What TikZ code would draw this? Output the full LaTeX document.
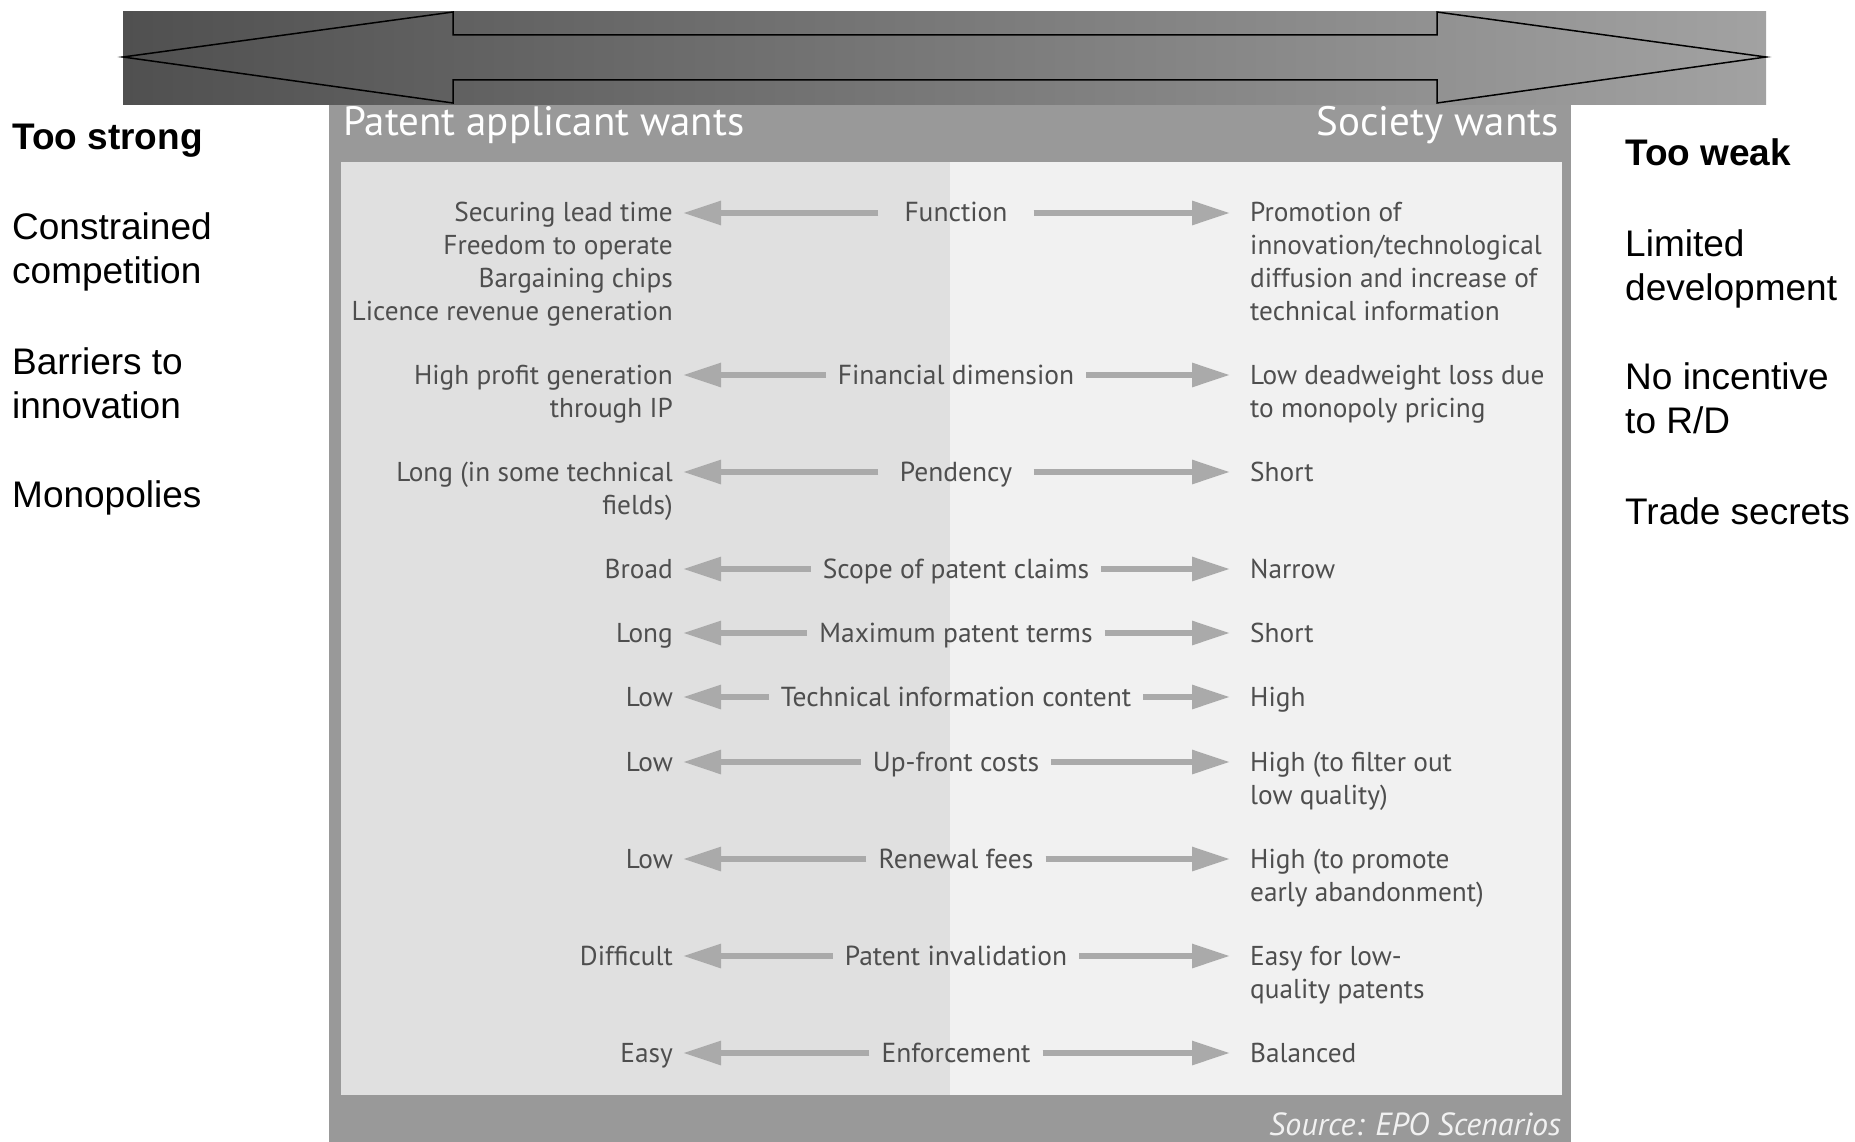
\documentclass[tikz,border=0pt]{standalone}
\usepackage{fontspec}
\setmainfont{Liberation Sans}
\newfontfamily\panelfont{PT Sans}
\usetikzlibrary{arrows.meta,positioning,calc}
\definecolor{bannerdark}{RGB}{80,80,80}
\definecolor{bannerlight}{RGB}{162,162,162}
\definecolor{framegray}{RGB}{153,153,153}
\definecolor{panelleft}{RGB}{224,224,224}
\definecolor{panelright}{RGB}{241,241,241}
\definecolor{arrowgray}{RGB}{170,170,170}
\definecolor{labelgray}{RGB}{78,78,78}
% multi-line texts that sit on the baseline of their first line
\newcommand{\stackright}[1]{\begin{tabular}[t]{@{}r@{}}#1\end{tabular}}
\newcommand{\stackleft}[1]{\begin{tabular}[t]{@{}l@{}}#1\end{tabular}}

\begin{document}
\begin{tikzpicture}[x=1pt, y=-1pt,
    verdict/.style={anchor=base west, inner sep=0pt, font=\fontsize{37}{44}\selectfont},
    heading/.style={inner sep=0pt, text=white, font=\panelfont\fontsize{41}{46}\selectfont},
    wantleft/.style={anchor=base east, inner sep=0pt, text=labelgray, font=\panelfont\fontsize{27.3}{33}\selectfont},
    wantright/.style={anchor=base west, inner sep=0pt, text=labelgray, font=\panelfont\fontsize{27.3}{33}\selectfont},
    dimension/.style={anchor=base, inner sep=0pt, inner xsep=12pt, minimum width=155pt, text=labelgray, font=\panelfont\fontsize{27.5}{33}\selectfont},
    pull/.style={draw=arrowgray, line width=6pt, -{Triangle[length=38pt, width=23pt]}}
]
    \useasboundingbox (0,0) rectangle (1855,1142);
    \fill[white] (0,0) rectangle (1855,1142);

    % Frame and panel
    \fill[framegray] (329,105) rectangle (1571,1142);
    \fill[panelleft] (341,162) rectangle (950,1095);
    \fill[panelright] (950,162) rectangle (1562,1095);

    % Banner with double arrow
    \shade[left color=bannerdark, right color=bannerlight] (123,12) rectangle (1766,105);
    \draw[line width=1.5pt] (123,57) -- (453,12) -- (453,35) -- (1437,35) -- (1437,12)
        -- (1766,57) -- (1437,103) -- (1437,80) -- (453,80) -- (453,103) -- cycle;

    % Headings
    \node[heading, anchor=base west] (hl) at (343,136) {Patent applicant wants};
    \node[heading, anchor=base east] (hr) at (1559,136) {Society wants};
    \node[heading, anchor=base east, font=\panelfont\itshape\fontsize{32}{36}\selectfont, text=panelright] (src) at (1561,1135) {Source: EPO Scenarios};

    % Too strong side
    \node[verdict, font=\bfseries\fontsize{37}{44}\selectfont] (ts) at (12,150) {Too strong};
    \node[verdict] (ts1) at (12,240) {\stackleft{Constrained\\competition}};
    \node[verdict] (ts2) at (12,374) {\stackleft{Barriers to\\innovation}};
    \node[verdict] (ts3) at (12,507) {Monopolies};

    % Too weak side
    \node[verdict, font=\bfseries\fontsize{37}{44}\selectfont] (tw) at (1625,166) {Too weak};
    \node[verdict] (tw1) at (1625,256) {\stackleft{Limited\\development}};
    \node[verdict] (tw2) at (1625,389) {\stackleft{No incentive\\to R/D}};
    \node[verdict] (tw3) at (1625,524) {Trade secrets};

    % Dimensions
    \node[dimension] (c1) at (956,222) {Function};
    \node[dimension] (c2) at (956,384) {Financial dimension};
    \node[dimension] (c3) at (956,481) {Pendency};
    \node[dimension] (c4) at (956,578) {Scope of patent claims};
    \node[dimension] (c5) at (956,642) {Maximum patent terms};
    \node[dimension] (c6) at (956,706) {Technical information content};
    \node[dimension] (c7) at (956,771) {Up-front costs};
    \node[dimension] (c8) at (956,868) {Renewal fees};
    \node[dimension] (c9) at (956,965) {Patent invalidation};
    \node[dimension] (c10) at (956,1062) {Enforcement};

    % Patent applicant wants
    \node[wantleft] (l1) at (673,222) {\stackright{Securing lead time\\Freedom to operate\\Bargaining chips\\Licence revenue generation}};
    \node[wantleft] (l2) at (673,384) {\stackright{High profit generation\\through IP}};
    \node[wantleft] (l3) at (673,481) {\stackright{Long (in some technical\\fields)}};
    \node[wantleft] (l4) at (673,578) {Broad};
    \node[wantleft] (l5) at (673,642) {Long};
    \node[wantleft] (l6) at (673,706) {Low};
    \node[wantleft] (l7) at (673,771) {Low};
    \node[wantleft] (l8) at (673,868) {Low};
    \node[wantleft] (l9) at (673,965) {Difficult};
    \node[wantleft] (l10) at (673,1062) {Easy};

    % Society wants
    \node[wantright] (r1) at (1250,222) {\stackleft{Promotion of\\innovation/technological\\diffusion and increase of\\technical information}};
    \node[wantright] (r2) at (1250,384) {\stackleft{Low deadweight loss due\\to monopoly pricing}};
    \node[wantright] (r3) at (1250,481) {Short};
    \node[wantright] (r4) at (1250,578) {Narrow};
    \node[wantright] (r5) at (1250,642) {Short};
    \node[wantright] (r6) at (1250,706) {High};
    \node[wantright] (r7) at (1250,771) {\stackleft{High (to filter out\\low quality)}};
    \node[wantright] (r8) at (1250,868) {\stackleft{High (to promote\\early abandonment)}};
    \node[wantright] (r9) at (1250,965) {\stackleft{Easy for low-\\quality patents}};
    \node[wantright] (r10) at (1250,1062) {Balanced};

    % Arrows
    \draw[pull] ([yshift=9pt]c1.base west) -- ([xshift=10pt,yshift=9pt]l1.base east);
    \draw[pull] ([yshift=9pt]c1.base east) -- ([xshift=-20pt,yshift=9pt]r1.base west);
    \draw[pull] ([yshift=9pt]c2.base west) -- ([xshift=10pt,yshift=9pt]l2.base east);
    \draw[pull] ([yshift=9pt]c2.base east) -- ([xshift=-20pt,yshift=9pt]r2.base west);
    \draw[pull] ([yshift=9pt]c3.base west) -- ([xshift=10pt,yshift=9pt]l3.base east);
    \draw[pull] ([yshift=9pt]c3.base east) -- ([xshift=-20pt,yshift=9pt]r3.base west);
    \draw[pull] ([yshift=9pt]c4.base west) -- ([xshift=10pt,yshift=9pt]l4.base east);
    \draw[pull] ([yshift=9pt]c4.base east) -- ([xshift=-20pt,yshift=9pt]r4.base west);
    \draw[pull] ([yshift=9pt]c5.base west) -- ([xshift=10pt,yshift=9pt]l5.base east);
    \draw[pull] ([yshift=9pt]c5.base east) -- ([xshift=-20pt,yshift=9pt]r5.base west);
    \draw[pull] ([yshift=9pt]c6.base west) -- ([xshift=10pt,yshift=9pt]l6.base east);
    \draw[pull] ([yshift=9pt]c6.base east) -- ([xshift=-20pt,yshift=9pt]r6.base west);
    \draw[pull] ([yshift=9pt]c7.base west) -- ([xshift=10pt,yshift=9pt]l7.base east);
    \draw[pull] ([yshift=9pt]c7.base east) -- ([xshift=-20pt,yshift=9pt]r7.base west);
    \draw[pull] ([yshift=9pt]c8.base west) -- ([xshift=10pt,yshift=9pt]l8.base east);
    \draw[pull] ([yshift=9pt]c8.base east) -- ([xshift=-20pt,yshift=9pt]r8.base west);
    \draw[pull] ([yshift=9pt]c9.base west) -- ([xshift=10pt,yshift=9pt]l9.base east);
    \draw[pull] ([yshift=9pt]c9.base east) -- ([xshift=-20pt,yshift=9pt]r9.base west);
    \draw[pull] ([yshift=9pt]c10.base west) -- ([xshift=10pt,yshift=9pt]l10.base east);
    \draw[pull] ([yshift=9pt]c10.base east) -- ([xshift=-20pt,yshift=9pt]r10.base west);
\end{tikzpicture}
\end{document}
